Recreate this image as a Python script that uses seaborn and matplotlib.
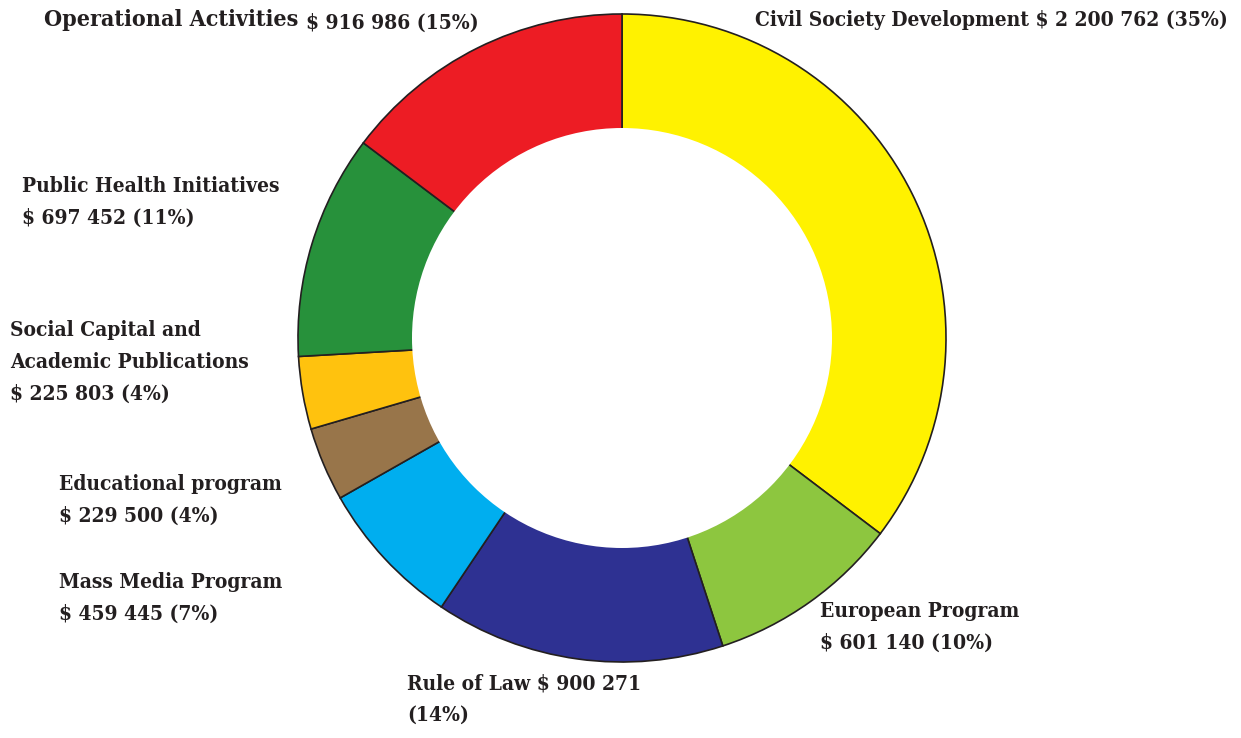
import matplotlib
matplotlib.use("Agg")
import matplotlib.pyplot as plt
import matplotlib.font_manager as fm
import seaborn as sns

# budget lines, clockwise from the top
programs = ["Civil Society Development", "European Program", "Rule of Law",
            "Mass Media Program", "Educational program",
            "Social Capital and Academic Publications",
            "Public Health Initiatives", "Operational Activities"]
amounts = [2200762, 601140, 900271, 459445, 229500, 225803, 697452, 916986]
shares = [35, 10, 14, 7, 4, 4, 11, 15]
colors = ["#FFF200", "#8DC63F", "#2E3192", "#00AEEF", "#98754A",
          "#FFC20E", "#27913B", "#ED1C24"]


def money(v):
    return "$ " + f"{v:,}".replace(",", " ")


sns.set_theme(style="white")

# pick a narrow bold face if the box has one
fonts = fm.fontManager.ttflist
family, stretch = "Liberation Serif", "normal"
if any(f.name == "Liberation Sans Narrow" for f in fonts):
    family = "Liberation Sans Narrow"
for f in fonts:
    if f.name in ("DejaVu Serif", "Liberation Serif") and str(f.stretch) in ("condensed", "semi-condensed", "600", "700"):
        family, stretch = f.name, "condensed"
        break
plt.rcParams["font.family"] = [family, "DejaVu Sans"]

W, H = 1241, 738
fig = plt.figure(figsize=(W / 100, H / 100), dpi=100)
ax = fig.add_axes([0, 0, 1, 1])

ax.pie(amounts, colors=colors, startangle=90, counterclock=False,
       center=(622, H - 338), radius=324, frame=True,
       wedgeprops=dict(edgecolor="#231F20", linewidth=1.2))
ax.add_patch(plt.Circle((622, H - 338), 210, facecolor="white", edgecolor="none", zorder=5))
ax.set_xlim(0, W)
ax.set_ylim(0, H)
ax.axis("off")

txt = dict(color="#231F20", fontweight="bold", fontstretch=stretch, va="top", ha="left",
           linespacing=1.75, zorder=10)
fs = 15

lab = {p: f"{money(a)} ({s}%)" for p, a, s in zip(programs, amounts, shares)}


def put(x, y, s, size=fs, **kw):
    ax.text(x, H - y, s, fontsize=size, **{**txt, **kw})


put(44, 9, "Operational Activities", size=16.7)
put(306, 13, lab["Operational Activities"])
put(1228, 10, "Civil Society Development " + lab["Civil Society Development"], ha="right")
put(22, 176, "Public Health Initiatives\n" + lab["Public Health Initiatives"])
put(10, 320, "Social Capital and\nAcademic Publications\n" + lab["Social Capital and Academic Publications"])
put(59, 474, "Educational program\n" + lab["Educational program"])
put(59, 572, "Mass Media Program\n" + lab["Mass Media Program"])
put(820, 601, "European Program\n" + lab["European Program"])
rol = lab["Rule of Law"].split(" (")
put(407, 673, "Rule of Law " + rol[0] + "\n(" + rol[1])

fig.savefig("out.png", dpi=100, facecolor="white")
